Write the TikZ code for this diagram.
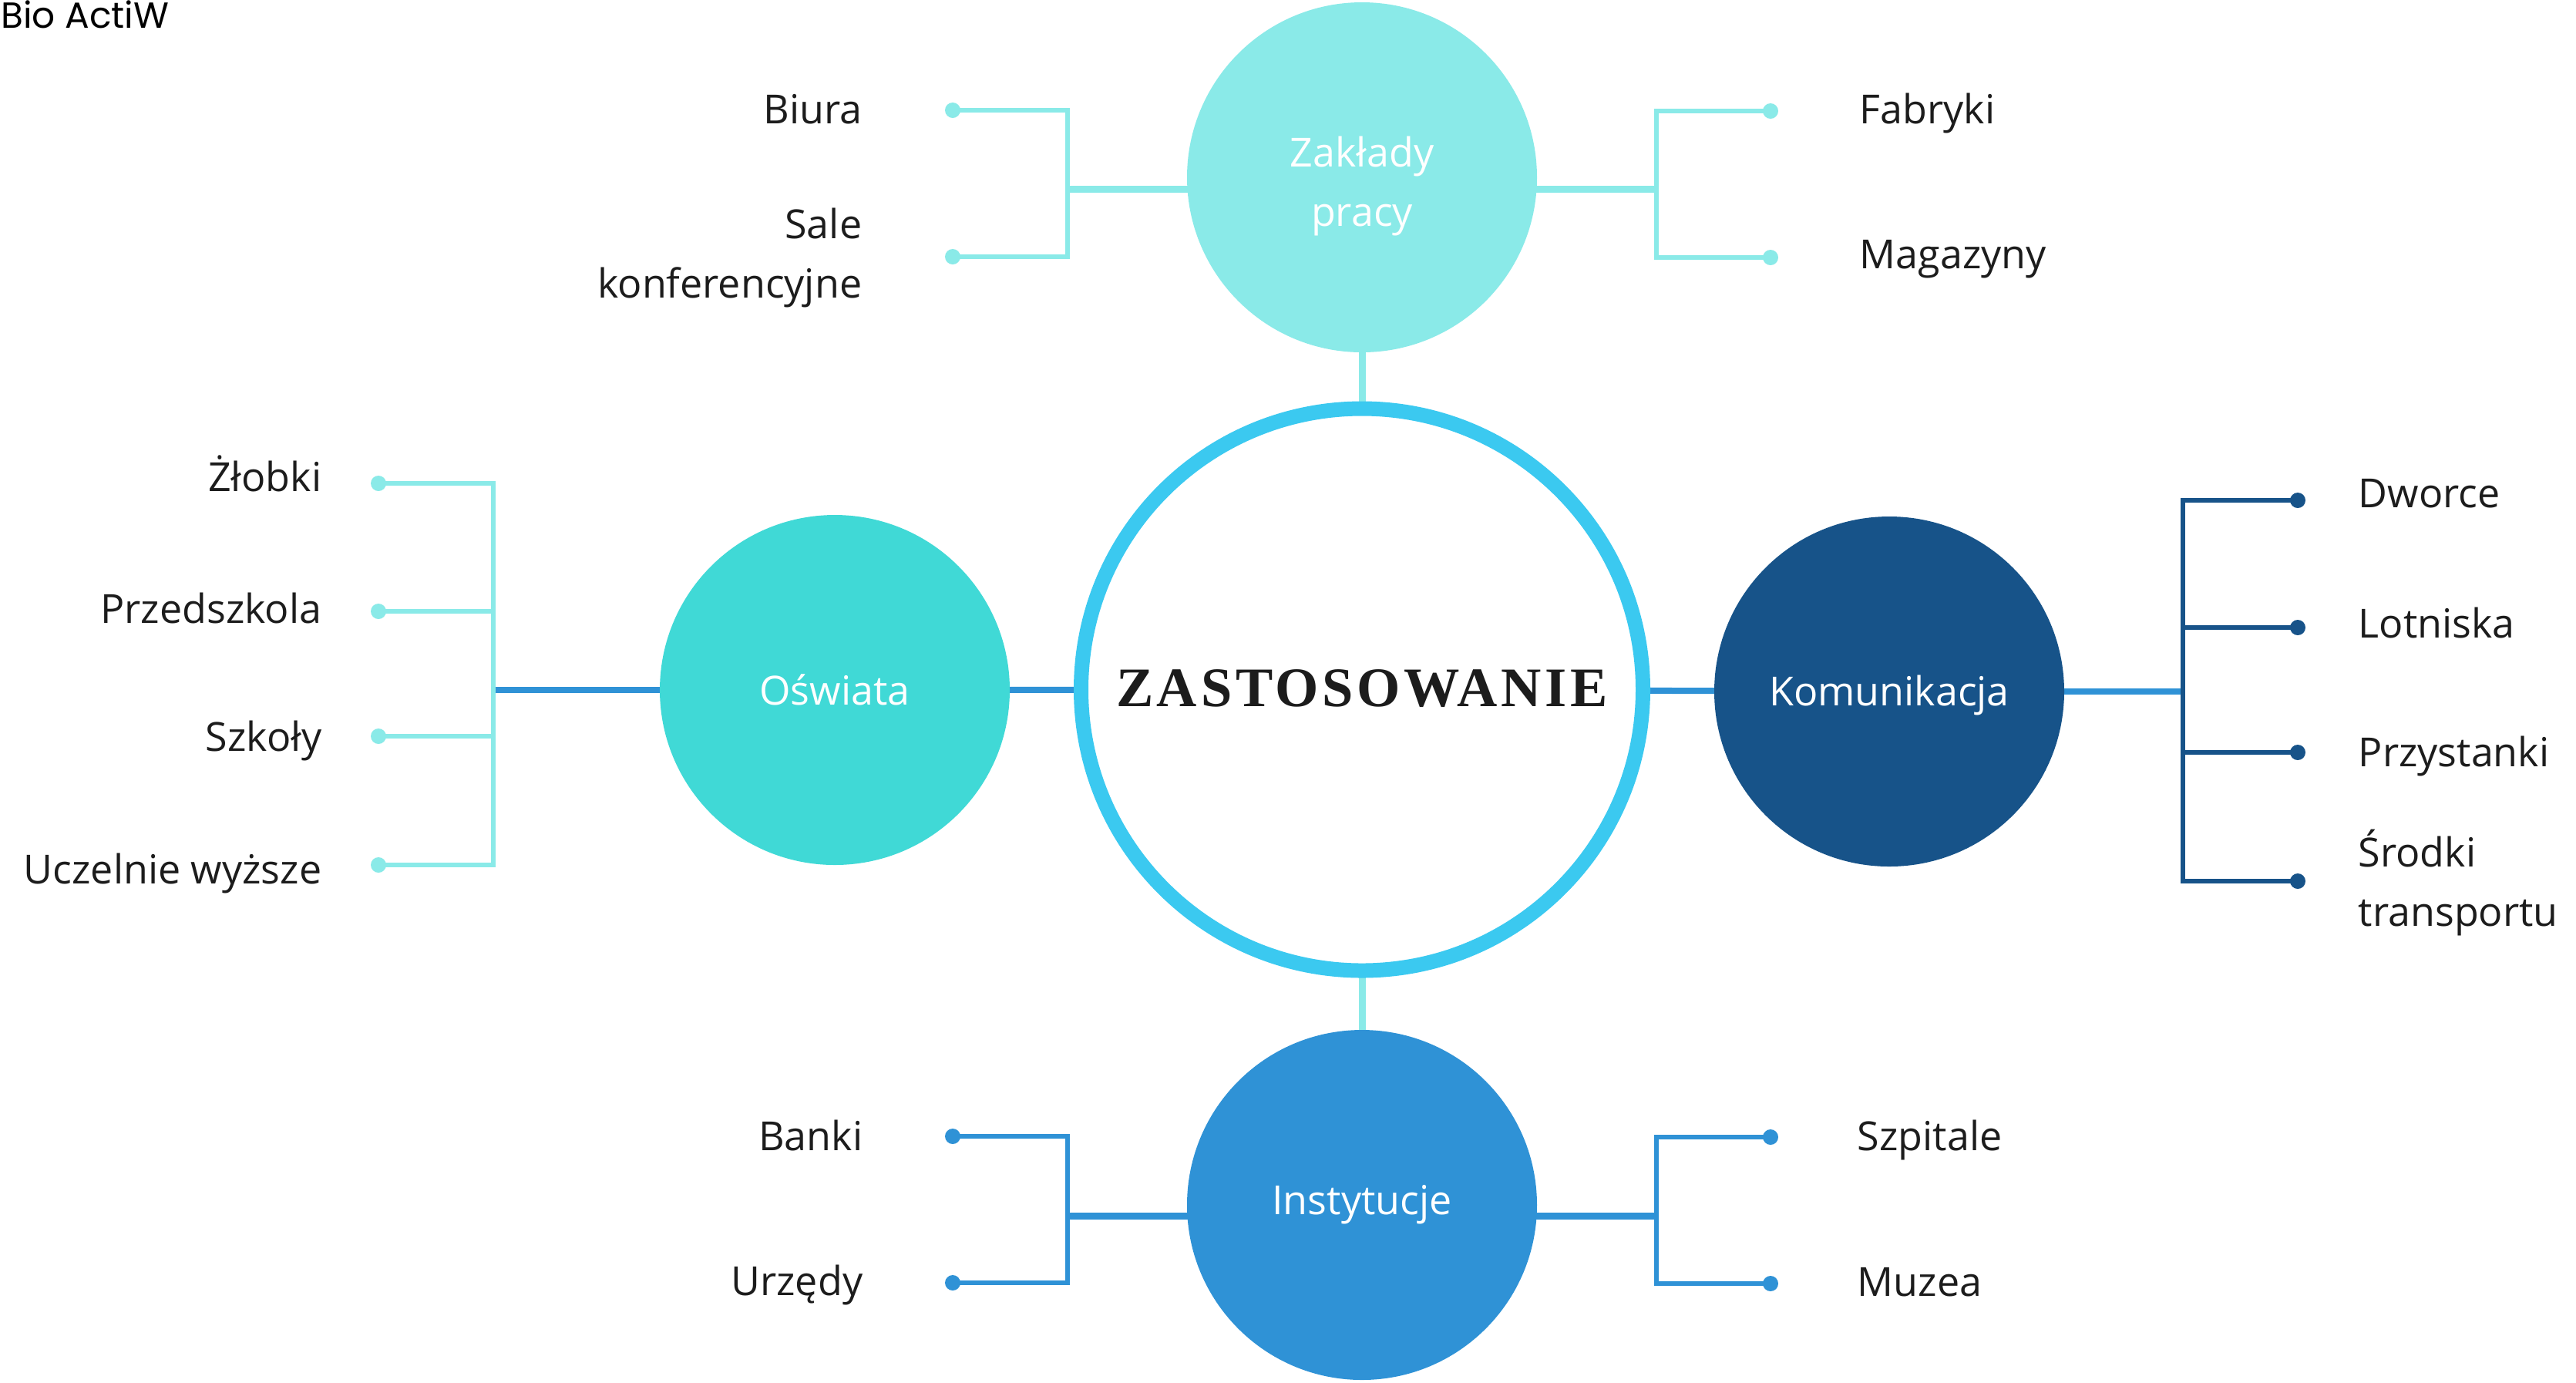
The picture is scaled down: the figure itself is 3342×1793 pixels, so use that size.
\documentclass[tikz,border=0pt]{standalone}
\usepackage{fontspec}
\setmainfont{Open Sans}
\newfontfamily\titlefont[LetterSpace=6.5]{Liberation Serif}
\newfontfamily\logofont{Poppins}
\usetikzlibrary{backgrounds}
\definecolor{aqua}{HTML}{8AEAE8}
\definecolor{turq}{HTML}{40D9D6}
\definecolor{navy}{HTML}{175389}
\definecolor{bluel}{HTML}{2F92D6}
\definecolor{ring}{HTML}{3BC9F0}
\definecolor{ink}{HTML}{1C1C1C}
\tikzset{
  hub/.style={circle, fill=#1, minimum size=113.5pt, inner sep=0pt},
  hubtext/.style={text=white, inner sep=0pt, align=center, font=\fontsize{13pt}{19.25pt}\selectfont},
  lbl/.style={text=ink, inner sep=0pt, font=\fontsize{13pt}{19.25pt}\selectfont},
  dotn/.style={circle, fill=#1, minimum size=5pt, inner sep=0pt},
  brk/.style={line width=1.5pt, draw=#1},
  stub/.style={line width=2pt, draw=#1},
}
\begin{document}
\begin{tikzpicture}[x=0.25pt,y=-0.25pt]
\useasboundingbox (0,0) rectangle (3342,1793);

% logo
\node[anchor=base east, inner sep=0pt, text=black, font=\logofont\fontsize{11.75pt}{14pt}\selectfont] (logo) at (220,36) {Bio ActiW};

% central ring
\node[circle, draw=ring, line width=4.75pt, minimum size=182.25pt, inner sep=0pt, fill=white] (core) at (1767,894.5) {};
\node[anchor=base, inner sep=0pt, text=ink, font=\titlefont\bfseries\fontsize{18.1pt}{20pt}\selectfont] (title) at (1767,916) {ZASTOSOWANIE};

% hubs
\node[hub=aqua] (zak) at (1767,230) {};
\node[hub=turq] (osw) at (1083,895) {};
\node[hub=navy] (kom) at (2451,897) {};
\node[hub=bluel] (ins) at (1767,1563) {};
\node[hubtext, anchor=base] (zakt) at (1767,293) {Zakłady\\pracy};
\node[hubtext, anchor=base] (oswt) at (1083,914) {Oświata};
\node[hubtext, anchor=base] (komt) at (2451,915) {Komunikacja};
\node[hubtext, anchor=base] (inst) at (1767,1575) {Instytucje};

% junction coordinates
\coordinate (jzl) at (1385,245);
\coordinate (jzr) at (2149,245);
\coordinate (jil) at (1385,1577);
\coordinate (jir) at (2149,1577);
\coordinate (jo) at (640,895);
\coordinate (jk) at (2832,897);

% dots
\node[dotn=aqua] (dtl1) at (1236,143) {};
\node[dotn=aqua] (dtl2) at (1236,333) {};
\node[dotn=aqua] (dtr1) at (2297,144) {};
\node[dotn=aqua] (dtr2) at (2297,334) {};
\node[dotn=bluel] (dbl1) at (1236,1474) {};
\node[dotn=bluel] (dbl2) at (1236,1664) {};
\node[dotn=bluel] (dbr1) at (2297,1475) {};
\node[dotn=bluel] (dbr2) at (2297,1665) {};
\node[dotn=aqua] (do1) at (491,627) {};
\node[dotn=aqua] (do2) at (491,793) {};
\node[dotn=aqua] (do3) at (491,955) {};
\node[dotn=aqua] (do4) at (491,1122) {};
\node[dotn=navy] (dk1) at (2981,649) {};
\node[dotn=navy] (dk2) at (2981,814) {};
\node[dotn=navy] (dk3) at (2981,976) {};
\node[dotn=navy] (dk4) at (2981,1143) {};

% labels
\node[lbl, anchor=base east] (l1) at (1119,160) {Biura};
\node[lbl, anchor=base east, align=right] (l2) at (1119,386) {Sale\\konferencyjne};
\node[lbl, anchor=base west] (l3) at (2412,160) {Fabryki};
\node[lbl, anchor=base west] (l4) at (2412,348) {Magazyny};
\node[lbl, anchor=base east] (l5) at (1120,1492) {Banki};
\node[lbl, anchor=base east] (l6) at (1120,1680) {Urzędy};
\node[lbl, anchor=base west] (l7) at (2409,1492) {Szpitale};
\node[lbl, anchor=base west] (l8) at (2409,1681) {Muzea};
\node[lbl, anchor=base east] (l9) at (418,637) {Żłobki};
\node[lbl, anchor=base east] (l10) at (418,808) {Przedszkola};
\node[lbl, anchor=base east] (l11) at (418,974) {Szkoły};
\node[lbl, anchor=base east] (l12) at (418,1146) {Uczelnie wyższe};
\node[lbl, anchor=base west] (l13) at (3059,658) {Dworce};
\node[lbl, anchor=base west] (l14) at (3059,827) {Lotniska};
\node[lbl, anchor=base west] (l15) at (3059,994) {Przystanki};
\node[lbl, anchor=base west, align=left] (l16) at (3059,1201) {Środki\\transportu};

\begin{pgfonlayer}{background}
  \fill[white] (0,0) rectangle (3342,1793);
  % hub to core
  \draw[stub=aqua, line width=2.25pt] (zak.center) -- (core.center);
  \draw[stub=aqua, line width=2.25pt] (ins.center) -- (core.center);
  \draw[stub=bluel] (osw.center) -- (core.center);
  \draw[stub=bluel] (kom.center) -- (core.center);
  % top
  \draw[stub=aqua, line width=2.25pt] (jzl) -- (jzr);
  \draw[brk=aqua] (dtl1.center) -| (jzl) |- (dtl2.center);
  \draw[brk=aqua] (dtr1.center) -| (jzr) |- (dtr2.center);
  % bottom
  \draw[stub=bluel, line width=2.25pt] (jil) -- (jir);
  \draw[brk=bluel] (dbl1.center) -| (jil) |- (dbl2.center);
  \draw[brk=bluel] (dbr1.center) -| (jir) |- (dbr2.center);
  % left
  \draw[stub=bluel] (jo) -- (osw.center);
  \draw[brk=aqua] (do1.center) -| (jo) |- (do4.center);
  \draw[brk=aqua] (do2.center) -- (do2.center -| jo);
  \draw[brk=aqua] (do3.center) -- (do3.center -| jo);
  % right
  \draw[stub=bluel] (jk) -- (kom.center);
  \draw[brk=navy] (dk1.center) -| (jk) |- (dk4.center);
  \draw[brk=navy] (dk2.center) -- (dk2.center -| jk);
  \draw[brk=navy] (dk3.center) -- (dk3.center -| jk);
\end{pgfonlayer}
\end{tikzpicture}
\end{document}
